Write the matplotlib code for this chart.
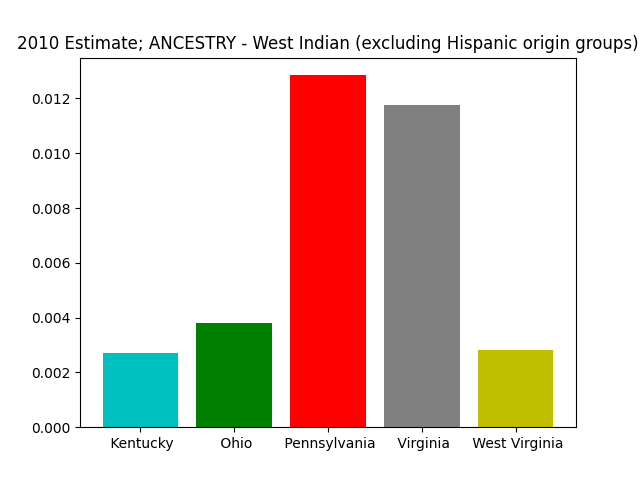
import matplotlib
matplotlib.use("Agg")
import matplotlib.pyplot as plt

states = [" Kentucky", " Ohio", " Pennsylvania", " Virginia", " West Virginia"]
values = [0.0027, 0.0038, 0.01285, 0.01175, 0.0028]
colors = ["c", "g", "r", "gray", "y"]

fig, ax = plt.subplots(figsize=(6.4, 4.8), dpi=100)
ax.bar(range(len(states)), values, color=colors)
ax.set_xticks(range(len(states)))
ax.set_xticklabels(states)
ax.set_title("2010 Estimate; ANCESTRY - West Indian (excluding Hispanic origin groups)")
fig.savefig("out.png")
